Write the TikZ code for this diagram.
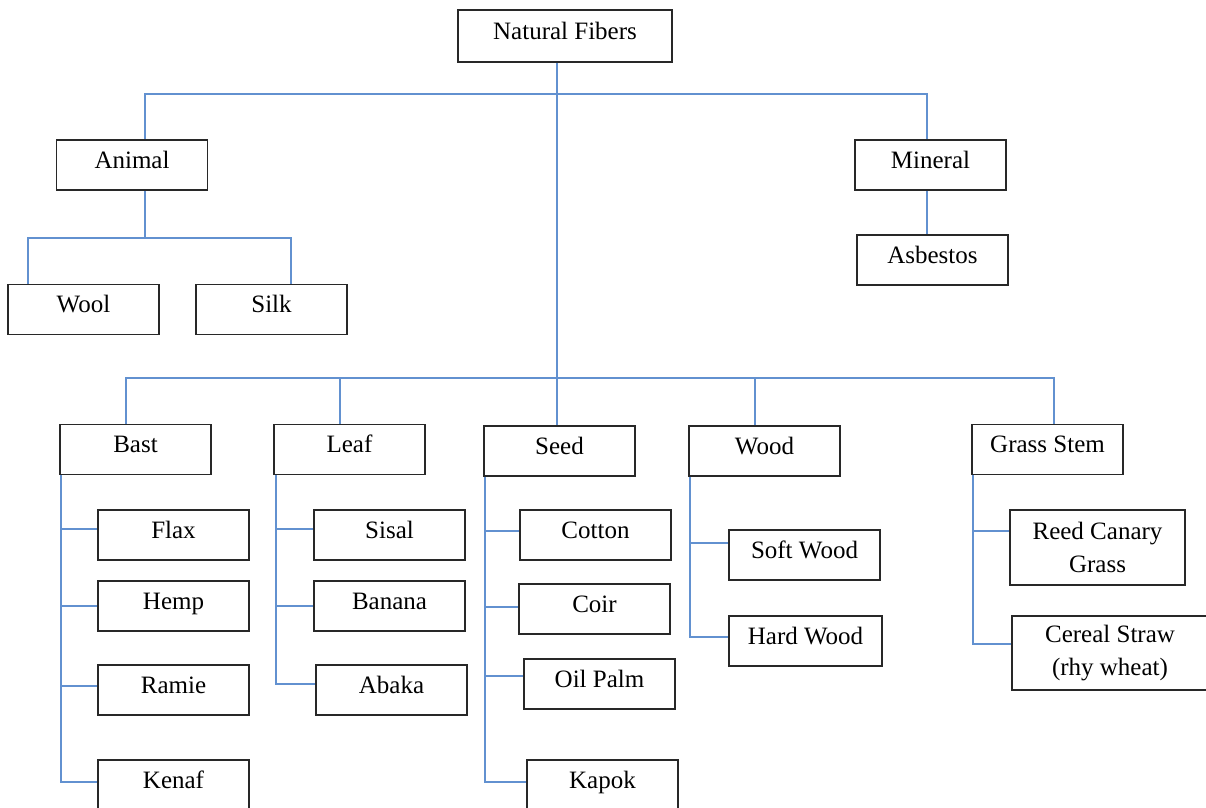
\documentclass[tikz,border=0pt]{standalone}
\usepackage{fontspec}
\setmainfont{Liberation Serif}
\definecolor{conncol}{RGB}{98,145,208}
\definecolor{boxcol}{RGB}{40,40,40}
\begin{document}
\begin{tikzpicture}[x=1pt,y=-1pt,
  box/.style={draw=boxcol,line width=1.6pt,minimum width=151pt,minimum height=50pt,inner sep=0pt,
    font=\fontsize{25}{33}\selectfont,text height=16pt,text depth=10pt},
  box2/.style={draw=boxcol,line width=1.6pt,inner sep=0pt,align=center,
    font=\fontsize{25}{33}\selectfont},
  conn/.style={draw=conncol,line width=1.5pt}]
\useasboundingbox (0,0) rectangle (1206,807);
\clip (0,0) rectangle (1206,807);
% nodes
\node[box,minimum width=214pt,minimum height=52pt] (nat) at (565,36) {Natural Fibers};
\node[box] (animal) at (132,165) {Animal};
\node[box] (mineral) at (930.5,165) {Mineral};
\node[box] (asbestos) at (932.5,260) {Asbestos};
\node[box] (wool) at (83.5,309.5) {Wool};
\node[box] (silk) at (271.5,309.5) {Silk};
\node[box] (bast) at (135.5,449.5) {Bast};
\node[box] (leaf) at (349.5,449.5) {Leaf};
\node[box] (seed) at (559.5,451) {Seed};
\node[box] (wood) at (764.5,451) {Wood};
\node[box] (grass) at (1047.5,449.5) {Grass Stem};
\node[box] (flax) at (173.5,535) {Flax};
\node[box] (hemp) at (173.5,606) {Hemp};
\node[box] (ramie) at (173.5,690) {Ramie};
\node[box] (kenaf) at (173.5,785) {Kenaf};
\node[box] (sisal) at (389.5,535) {Sisal};
\node[box] (banana) at (389.5,606) {Banana};
\node[box] (abaka) at (391.5,690) {Abaka};
\node[box] (cotton) at (595.5,535) {Cotton};
\node[box] (coir) at (594.5,609) {Coir};
\node[box] (oilpalm) at (599.5,684) {Oil Palm};
\node[box] (kapok) at (602.5,785) {Kapok};
\node[box] (soft) at (804.5,555) {Soft Wood};
\node[box,minimum width=153pt] (hard) at (805.5,641) {Hard Wood};
\node[box2,minimum width=175pt,minimum height=75pt] (reed) at (1097.5,547.5) {Reed Canary\\Grass};
\node[box2,minimum width=196pt,minimum height=74pt] (cereal) at (1110,653) {Cereal Straw\\(rhy wheat)};
% junctions
\coordinate (j1) at (557,94);
\coordinate (j2) at (557,378);
\coordinate (j3) at (145,238);
% top level
\draw[conn] ([xshift=-8pt]nat.south) -- (j2);
\draw[conn] ([xshift=13pt]animal.north) |- (j1) -| ([xshift=-3.5pt]mineral.north);
\draw[conn] ([xshift=13pt]animal.south) -- (j3);
\draw[conn] ([xshift=-55.5pt]wool.north) |- (j3) -| ([xshift=19.5pt]silk.north);
\draw[conn] ([xshift=-3.5pt]mineral.south) -- ([xshift=-5.5pt]asbestos.north);
% second level
\draw[conn] ([xshift=-9.5pt]bast.north) |- (j2) -| ([xshift=6.5pt]grass.north);
\draw[conn] ([xshift=-9.5pt]leaf.north) |- (j2);
\draw[conn] (j2) -- (seed.north -| j2);
\draw[conn] ([xshift=-9.5pt]wood.north) |- (j2);
% bast
\draw[conn] ([xshift=2pt]bast.south west) |- ([yshift=6pt]flax.west);
\draw[conn] ([xshift=2pt]bast.south west) |- (hemp.west);
\draw[conn] ([xshift=2pt]bast.south west) |- ([yshift=4pt]ramie.west);
\draw[conn] ([xshift=2pt]bast.south west) |- ([yshift=3pt]kenaf.west);
% leaf
\draw[conn] ([xshift=3pt]leaf.south west) |- ([yshift=6pt]sisal.west);
\draw[conn] ([xshift=3pt]leaf.south west) |- (banana.west);
\draw[conn] ([xshift=3pt]leaf.south west) |- ([yshift=6pt]abaka.west);
% seed
\draw[conn] ([xshift=2pt]seed.south west) |- ([yshift=4pt]cotton.west);
\draw[conn] ([xshift=2pt]seed.south west) |- ([yshift=2pt]coir.west);
\draw[conn] ([xshift=2pt]seed.south west) |- ([yshift=8pt]oilpalm.west);
\draw[conn] ([xshift=2pt]seed.south west) |- ([yshift=3pt]kapok.west);
% wood
\draw[conn] ([xshift=2pt]wood.south west) |- ([yshift=12pt]soft.west);
\draw[conn] ([xshift=2pt]wood.south west) |- ([yshift=4pt]hard.west);
% grass
\draw[conn] ([xshift=2pt]grass.south west) |- ([yshift=16.5pt]reed.west);
\draw[conn] ([xshift=2pt]grass.south west) |- ([yshift=9pt]cereal.west);
\end{tikzpicture}
\end{document}
